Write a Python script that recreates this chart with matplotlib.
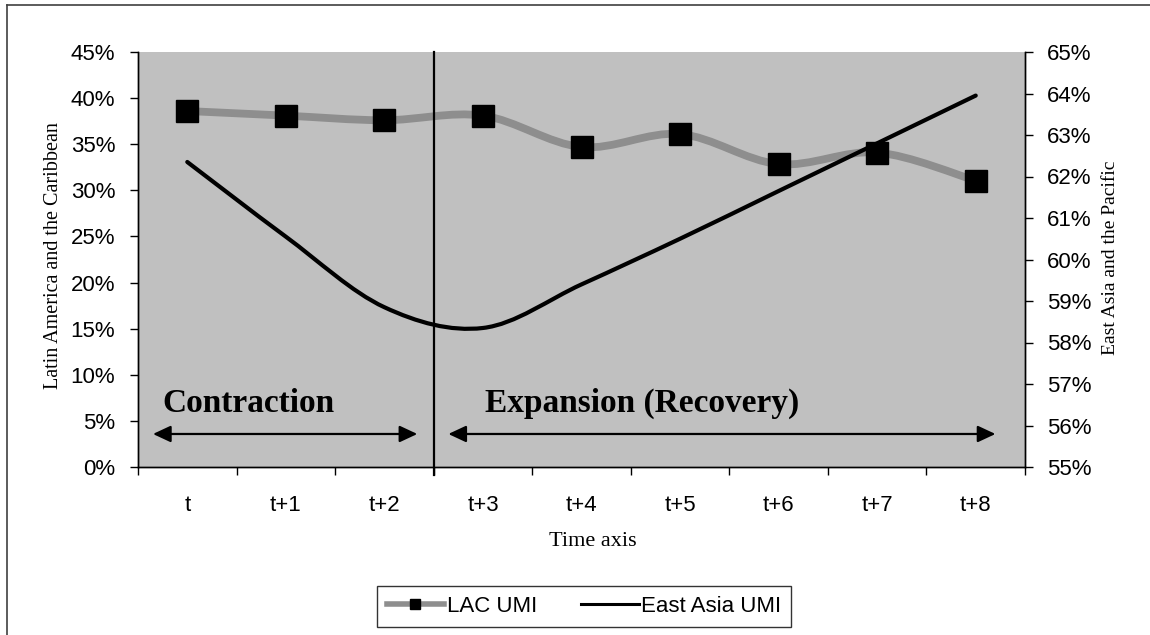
import numpy as np
import matplotlib
matplotlib.use("Agg")
import matplotlib.pyplot as plt
from matplotlib.path import Path
from matplotlib.patches import PathPatch
from matplotlib.lines import Line2D
from matplotlib.ticker import PercentFormatter

# ---- data ----
periods = ["t", "t+1", "t+2", "t+3", "t+4", "t+5", "t+6", "t+7", "t+8"]
lac_umi = [38.6, 38.1, 37.6, 38.1, 34.7, 36.1, 32.85, 34.1, 31.05]      # left axis, %
east_asia_umi = [62.35, 60.55, 58.85, 58.35, 59.4, 60.5, 61.65, 62.8, 63.95]  # right axis, %
left_ticks = [0, 5, 10, 15, 20, 25, 30, 35, 40, 45]
right_ticks = [55, 56, 57, 58, 59, 60, 61, 62, 63, 64, 65]
phase_labels = ["Contraction", "Expansion (Recovery)"]

SANS = ["Liberation Sans", "DejaVu Sans"]
SERIF = ["Liberation Serif", "DejaVu Serif"]


def smooth_path(xs, ys):
    """Excel-like smoothed line: cubic Bezier through the points (Catmull-Rom)."""
    P = np.column_stack([xs, ys]).astype(float)
    n = len(P)
    verts = [tuple(P[0])]
    codes = [Path.MOVETO]
    for i in range(n - 1):
        p0 = P[i - 1] if i > 0 else P[i]
        p1 = P[i]
        p2 = P[i + 1]
        p3 = P[i + 2] if i + 2 < n else P[i + 1]
        c1 = p1 + (p2 - p0) / 6.0
        c2 = p2 - (p3 - p1) / 6.0
        verts += [tuple(c1), tuple(c2), tuple(p2)]
        codes += [Path.CURVE4] * 3
    return Path(verts, codes)


W, H = 1150, 635
fig = plt.figure(figsize=(W / 100, H / 100), dpi=100, facecolor="white")
L, R, T, B = 138, 1025, 52, 467
ax = fig.add_axes([L / W, 1 - B / H, (R - L) / W, (B - T) / H])
ax.set_facecolor("#C0C0C0")
ax2 = ax.twinx()

x = np.arange(len(periods))
ax.set_xlim(-0.5, len(periods) - 0.5)
ax.set_ylim(0, 45)
ax2.set_ylim(55, 65)

# LAC series (smoothed textured grey line + square markers)
lac_path = smooth_path(x, lac_umi)
ax.add_patch(PathPatch(lac_path, facecolor="none", edgecolor="#8e8e8e",
                       lw=5.6, capstyle="butt", zorder=3))
ax.plot(x, lac_umi, linestyle="none", marker="s", markersize=15.8,
        markerfacecolor="black", markeredgecolor="black", zorder=4)

# East Asia series (smoothed black line)
ea_path = smooth_path(x, east_asia_umi)
ax2.add_patch(PathPatch(ea_path, facecolor="none", edgecolor="black",
                        lw=3.0, capstyle="round", zorder=3))

# Vertical divider between contraction and expansion
ax.axvline(2.5, ymin=-8 / 415, ymax=1, color="black", lw=1.6, clip_on=False, zorder=5)

# Phase annotations
arrow_y = 3.58
aprops = dict(arrowstyle="<|-|>,head_length=0.6,head_width=0.28", lw=1.6,
              color="black", mutation_scale=18, shrinkA=0, shrinkB=0)
ax.annotate("", xy=(2.334, arrow_y), xytext=(-0.348, arrow_y), arrowprops=aprops, zorder=6)
ax.annotate("", xy=(8.2, arrow_y), xytext=(2.649, arrow_y), arrowprops=aprops, zorder=6)
ax.text(-0.256, 5.96, phase_labels[0], family=SERIF, fontweight="bold",
        fontsize=24, ha="left", va="baseline", zorder=6)
ax.text(3.025, 5.96, phase_labels[1], family=SERIF, fontweight="bold",
        fontsize=24, ha="left", va="baseline", zorder=6)

# X axis
ax.set_xticks(x)
ax.set_xticklabels(periods, family=SANS, fontsize=16)
ax.tick_params(axis="x", which="major", length=0, pad=20)
ax.set_xticks(np.arange(-0.5, len(periods)), minor=True)
ax.tick_params(axis="x", which="minor", length=5.8, width=1, direction="out", color="black")
ax.set_xlabel("Time axis", family=SERIF, fontsize=16, va="top")
ax.xaxis.set_label_coords(0.513, -0.156)

# Left Y axis
ax.set_yticks(left_ticks)
ax.yaxis.set_major_formatter(PercentFormatter(decimals=0))
ax.tick_params(axis="y", length=5.8, width=1, direction="out", pad=10.5, labelsize=16)
for lbl in ax.get_yticklabels():
    lbl.set_family(SANS)
ax.set_ylabel("Latin America and the Caribbean", family=SERIF, fontsize=14.5)
ax.yaxis.set_label_coords(-0.085, 0.51)

# Right Y axis
ax2.set_yticks(right_ticks)
ax2.yaxis.set_major_formatter(PercentFormatter(decimals=0))
ax2.tick_params(axis="y", length=5.8, width=1, direction="out", pad=10, labelsize=16)
for lbl in ax2.get_yticklabels():
    lbl.set_family(SANS)
ax2.set_ylabel("East Asia and the Pacific", family=SERIF, fontsize=14)
ax2.yaxis.set_label_coords(1.087, 0.505)

for a in (ax, ax2):
    a.spines["top"].set_visible(False)
    for s in ("left", "right", "bottom"):
        a.spines[s].set_color("black")
        a.spines[s].set_linewidth(1.0)

# Legend
handles = [
    Line2D([], [], color="#8e8e8e", lw=4, marker="s", markersize=7,
           markerfacecolor="black", markeredgecolor="black"),
    Line2D([], [], color="black", lw=2.2),
]
leg = fig.legend(handles, ["LAC UMI", "East Asia UMI"], loc="center",
                 bbox_to_anchor=(584 / W, 1 - 606 / H), ncol=2,
                 prop={"family": SANS, "size": 16}, frameon=True, fancybox=False,
                 edgecolor="black", handlelength=2.6, handletextpad=0.1,
                 columnspacing=2.0, borderpad=0.45, borderaxespad=0)
leg.get_frame().set_linewidth(1.0)

# Outer chart border (left and top visible)
fig.add_artist(Line2D([7 / W, 7 / W], [0, 1 - 5 / H], transform=fig.transFigure,
                      color="#404040", lw=1.2))
fig.add_artist(Line2D([7 / W, 1], [1 - 5 / H, 1 - 5 / H], transform=fig.transFigure,
                      color="#404040", lw=1.2))

fig.savefig("out.png", dpi=100, facecolor="white")
